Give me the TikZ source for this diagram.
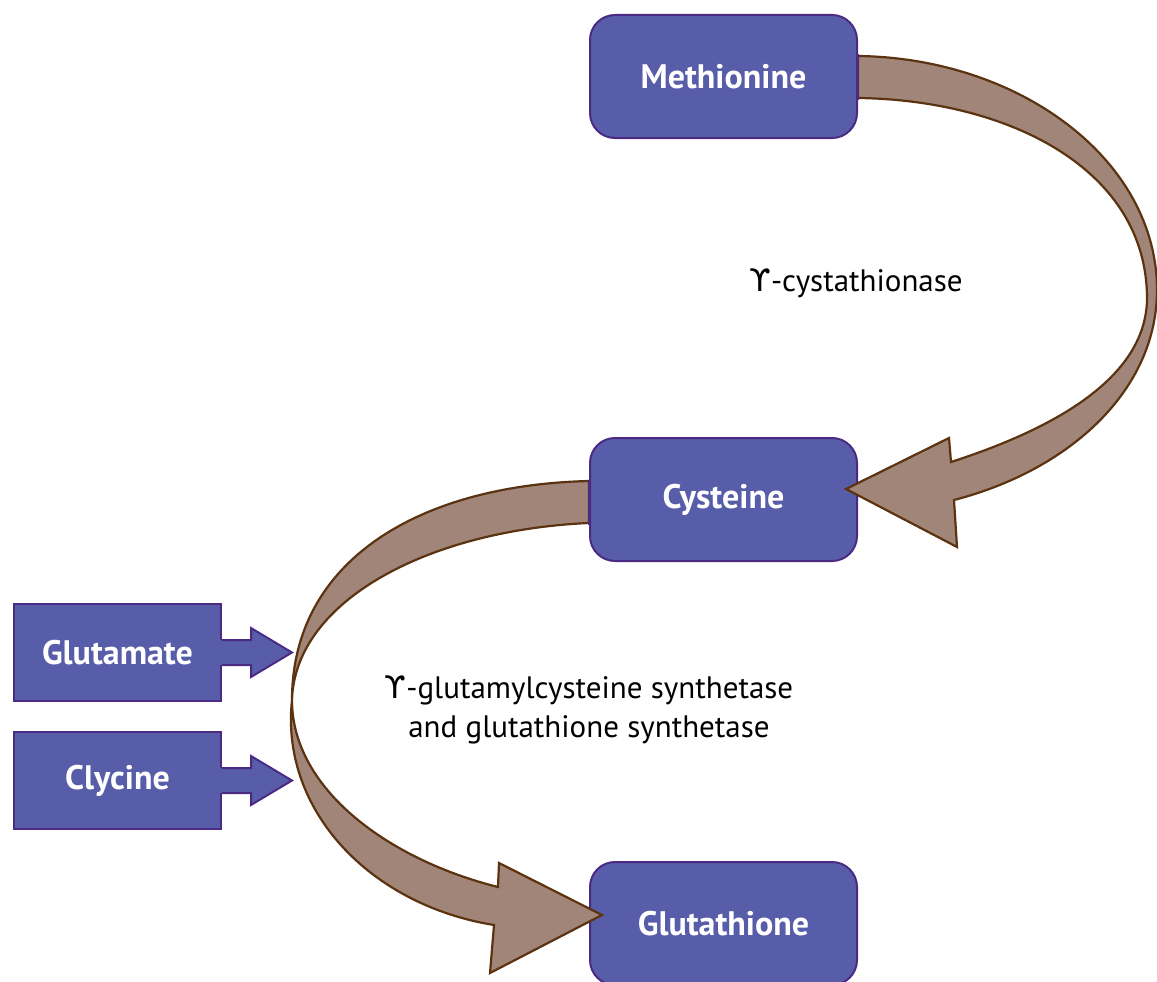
\documentclass[tikz,border=0pt]{standalone}
\usepackage{fontspec}
\setmainfont{PT Sans}
\newfontfamily\greekfont{DejaVu Sans}
\usepackage{tikz}
\usetikzlibrary{positioning}

\definecolor{boxfill}{RGB}{87,93,168}
\definecolor{boxline}{RGB}{75,42,132}
\definecolor{flowfill}{RGB}{160,133,120}
\definecolor{flowline}{RGB}{92,51,16}

\begin{document}
\begin{tikzpicture}[x=1pt,y=-1pt,
  compound/.style={draw=boxline,fill=boxfill,line width=2pt,rounded corners=25pt,
    minimum width=267pt,minimum height=123pt,inner sep=0pt,
    text=white,font=\fontsize{34}{40}\selectfont\bfseries},
  source/.style={draw=boxline,fill=boxfill,line width=2pt,
    minimum width=207pt,minimum height=97pt,inner sep=0pt,
    text=white,font=\fontsize{34}{40}\selectfont\bfseries},
  flow/.style={draw=flowline,fill=flowfill,line width=2.2pt,line join=miter},
  edge/.style={draw=boxline,line width=2pt},
  enzyme/.style={align=center,font=\fontsize{31}{39}\selectfont}]
  \useasboundingbox (0,0) rectangle (1157,982);

  \node[compound] (meth) at (723.5,76.5) {Methionine};
  \node[compound,below=298pt of meth] (cyst) {Cysteine};
  \node[compound,below=299pt of cyst] (glut) {Glutathione};
  \node[source] (glu) at (117.5,652.5) {Glutamate};
  \node[source,below=29pt of glu] (gly) {Clycine};

  \node[enzyme] (cysase) at (856,283) {{\greekfont ϒ}-cystathionase};
  \node[enzyme] (synth) at (589,710) {{\greekfont ϒ}-glutamylcysteine synthetase\\and glutathione synthetase};

  % inputs
  \foreach \n in {glu,gly}{
    \fill[boxfill] ([xshift=-2pt,yshift=12.5pt]\n.east) -- ([xshift=29pt,yshift=12.5pt]\n.east)
      -- ([xshift=29pt,yshift=24.5pt]\n.east) -- ([xshift=70pt]\n.east)
      -- ([xshift=29pt,yshift=-24.5pt]\n.east) -- ([xshift=29pt,yshift=-12.5pt]\n.east)
      -- ([xshift=-2pt,yshift=-12.5pt]\n.east) -- cycle;
    \draw[edge] ([yshift=12.5pt]\n.east) -- ([xshift=29pt,yshift=12.5pt]\n.east)
      -- ([xshift=29pt,yshift=24.5pt]\n.east) -- ([xshift=70pt]\n.east)
      -- ([xshift=29pt,yshift=-24.5pt]\n.east) -- ([xshift=29pt,yshift=-12.5pt]\n.east)
      -- ([yshift=-12.5pt]\n.east);
  }

  % reactions
  \filldraw[flow] ([yshift=20.5pt]meth.east)
    .. controls (1020,58) and (1157,160) .. (1157,290)
    .. controls (1157,390) and (1070,470) .. (954,500) -- (957,547)
    -- ([xshift=-12pt,yshift=10.5pt]cyst.east) -- (949,438) -- (951,462)
    .. controls (1050,430) and (1145,380) .. (1147,300)
    .. controls (1148,170) and (1010,100) .. ([yshift=-21.5pt]meth.east) -- cycle;
  \draw[edge] ([yshift=22pt]meth.east) -- ([yshift=-23pt]meth.east);
  \filldraw[flow] ([yshift=18.5pt]cyst.west)
    .. controls (420,485) and (292,560) .. (292,700)
    .. controls (292,790) and (390,860) .. (498,887) -- (499,863)
    -- ([xshift=13pt,yshift=8.5pt]glut.west) -- (490,973) -- (494,925)
    .. controls (370,905) and (280,810) .. (292,700)
    .. controls (295,600) and (430,530) .. ([yshift=-23.5pt]cyst.west) -- cycle;
  \draw[edge] ([yshift=20pt]cyst.west) -- ([yshift=-25pt]cyst.west);
\end{tikzpicture}
\end{document}
